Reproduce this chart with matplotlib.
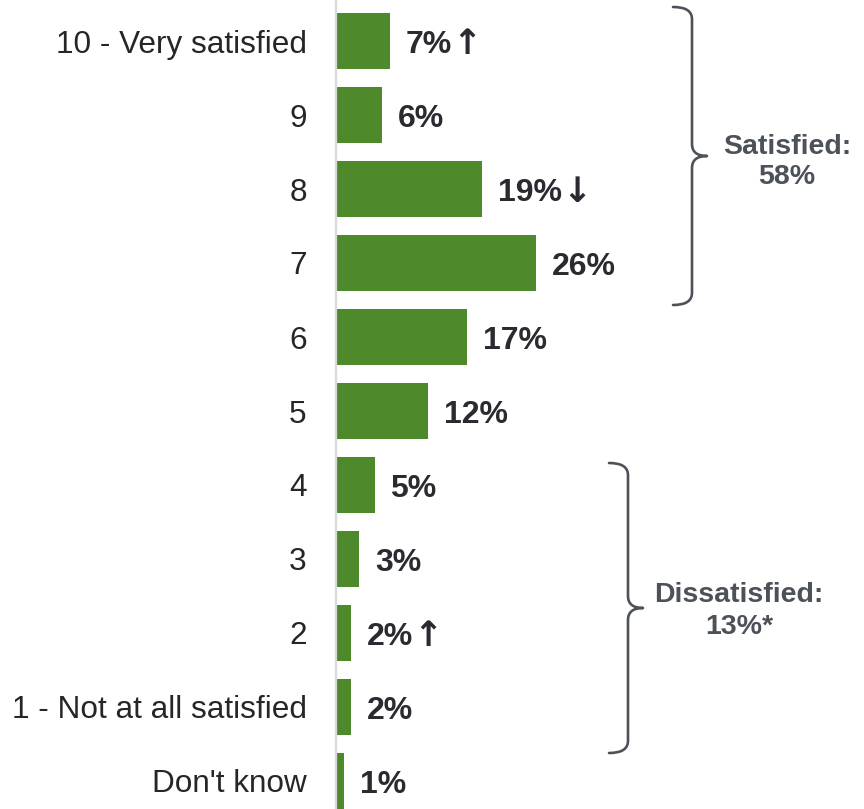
import matplotlib
matplotlib.use("Agg")
import matplotlib.pyplot as plt
from matplotlib.path import Path
from matplotlib.patches import PathPatch

plt.rcParams['font.family'] = ['Liberation Sans', 'DejaVu Sans']

categories = ["10 - Very satisfied", "9", "8", "7", "6", "5", "4", "3", "2",
              "1 - Not at all satisfied", "Don't know"]
values = [7, 6, 19, 26, 17, 12, 5, 3, 2, 2, 1]
labels = ["7%", "6%", "19%", "26%", "17%", "12%", "5%", "3%", "2%", "2%", "1%"]
arrows = ["\u2191", "", "\u2193", "", "", "", "", "", "\u2191", "", ""]

groups = [("Satisfied:", "58%", 0, 3), ("Dissatisfied:", "13%*", 6, 9)]

BAR = "#4e8a2c"
TXT = "#2a2b30"
GREY = "#4d5259"

W, H = 864, 809
fig = plt.figure(figsize=(W / 100, H / 100), dpi=100)
ax_left = 336
ax = fig.add_axes([ax_left / W, 0, (W - ax_left) / W, 1])

pxx = 7.7   # pixels per percent
pxy = 74.0  # pixels per category
ax.set_xlim(0, (W - ax_left) / pxx)
ax.set_ylim((H - 41) / pxy, -41 / pxy)

y = list(range(len(categories)))
ax.barh(y, values, height=0.77, color=BAR)

for yi, v, lab, arr in zip(y, values, labels, arrows):
    t = ax.annotate(lab, (v, yi), xytext=(11.5, -3), textcoords="offset points",
                    ha="left", va="center", fontsize=23, fontweight="bold", color=TXT)
    if arr:
        ax.annotate(arr, xy=(1, 0.5), xycoords=t, xytext=(0, 0.5), textcoords="offset points",
                    ha="left", va="center", fontsize=25, fontweight="bold",
                    family="DejaVu Sans", color=TXT)

ax.set_yticks(y)
ax.set_yticklabels(categories, fontsize=22.7, color="#262626")
ax.tick_params(axis="y", length=0, pad=21)
ax.tick_params(axis="x", bottom=False, labelbottom=False)
for s in ["top", "right", "bottom"]:
    ax.spines[s].set_visible(False)
ax.spines["left"].set_color("#d9d9d9")
ax.spines["left"].set_linewidth(1.6)


def brace(xv_px, top_i, bot_i, top_off, bot_off, color):
    dx = 1 / pxx
    dy = 1 / pxy
    xv = (xv_px - ax_left) * dx
    yt = top_i + top_off * dy
    yb = bot_i + bot_off * dy
    ym = (yt + yb) / 2
    tail = 19 * dx
    tip = 15 * dx
    r = 12 * dy
    verts = [
        (xv - tail, yt),
        (xv, yt), (xv, yt + r),
        (xv, ym - r),
        (xv, ym), (xv + tip, ym),
        (xv, ym), (xv, ym + r),
        (xv, yb - r),
        (xv, yb), (xv - tail, yb),
    ]
    codes = [Path.MOVETO,
             Path.CURVE3, Path.CURVE3,
             Path.LINETO,
             Path.CURVE3, Path.CURVE3,
             Path.CURVE3, Path.CURVE3,
             Path.LINETO,
             Path.CURVE3, Path.CURVE3]
    ax.add_patch(PathPatch(Path(verts, codes), fill=False, edgecolor=color,
                           lw=1.9, capstyle="round", joinstyle="round", clip_on=False))
    return ym


brace_x = [692, 628]
brace_offs = [(-34, 42), (-22, 46)]
text_x = [787, 739]
text_dy = [(-9, 21), (-13, 19)]
for (t1, t2, a, b), bx, (to, bo), tx, (d1, d2) in zip(groups, brace_x, brace_offs, text_x, text_dy):
    ym = brace(bx, a, b, to, bo, GREY)
    xd = (tx - ax_left) / pxx
    ax.text(xd, ym + d1 / pxy, t1, ha="center", va="center", fontsize=20.5,
            fontweight="bold", color=GREY)
    ax.text(xd, ym + d2 / pxy, t2, ha="center", va="center", fontsize=20.5,
            fontweight="bold", color=GREY)

fig.savefig("out.png", dpi=100)
